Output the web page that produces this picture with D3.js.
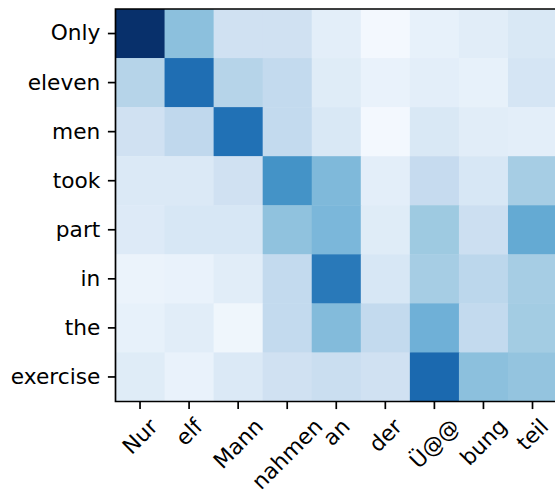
<!DOCTYPE html>
<html>
<head>
<meta charset="utf-8">
<script src="https://cdn.jsdelivr.net/npm/d3@7"></script>
<style>
  body { margin: 0; background: #fff; }
  svg { display: block; font-family: "DejaVu Sans", sans-serif; }
</style>
</head>
<body>
<svg id="bg" width="555" height="493"></svg>
<script>
// source (columns) and target (rows) tokens
var cols = ['Nur', 'elf', 'Mann', 'nahmen', 'an', 'der', 'Ü@@', 'bung', 'teil'];
var rows = ['Only', 'eleven', 'men', 'took', 'part', 'in', 'the', 'exercise'];

// attention weights, one array per row (0..1 on the colour scale)
var wOnly     = [1.00, 0.42, 0.20, 0.20, 0.10, 0.02, 0.08, 0.11, 0.15];
var wEleven   = [0.30, 0.76, 0.30, 0.26, 0.12, 0.07, 0.10, 0.08, 0.17];
var wMen      = [0.20, 0.27, 0.75, 0.26, 0.15, 0.02, 0.15, 0.11, 0.10];
var wTook     = [0.14, 0.14, 0.20, 0.62, 0.45, 0.10, 0.25, 0.16, 0.35];
var wPart     = [0.13, 0.16, 0.16, 0.41, 0.46, 0.12, 0.375, 0.22, 0.52];
var wIn       = [0.06, 0.07, 0.11, 0.26, 0.72, 0.16, 0.35, 0.28, 0.35];
var wThe      = [0.08, 0.11, 0.04, 0.26, 0.44, 0.26, 0.49, 0.26, 0.36];
var wExercise = [0.12, 0.07, 0.14, 0.20, 0.23, 0.20, 0.78, 0.42, 0.40];

var weights = [wOnly, wEleven, wMen, wTook, wPart, wIn, wThe, wExercise];

// matplotlib "Blues"
var blues = ['#f7fbff', '#deebf7', '#c6dbef', '#9ecae1', '#6baed6', '#4292c6', '#2171b5', '#08519c', '#08306b'];
var color = d3.scaleLinear()
  .domain(d3.range(9).map(function(i) { return i / 8; }))
  .range(blues)
  .interpolate(d3.interpolateRgb);

var plotLeft = 115.5, plotTop = 9, cell = 49.06;

var xScale = d3.scaleBand()
  .domain(cols)
  .range([plotLeft, plotLeft + cell * cols.length]);

var yScale = d3.scaleBand()
  .domain(rows)
  .range([plotTop, plotTop + cell * rows.length]);

var svg = d3.select('#bg');

var cells = [];
rows.forEach(function(r, i) {
  cols.forEach(function(c, j) {
    cells.push({ row: r, col: c, v: weights[i][j] });
  });
});

svg.append('g')
  .selectAll('rect')
  .data(cells)
  .join('rect')
  .attr('x', function(d) { return xScale(d.col); })
  .attr('y', function(d) { return yScale(d.row); })
  .attr('width', xScale.bandwidth() + 0.5)
  .attr('height', yScale.bandwidth() + 0.5)
  .attr('fill', function(d) { return color(d.v); });

var fontSize = 21.7;
var tickLen = 7.6;
var pad = 7.6;
var lw = 1.7;
var plotBottom = plotTop + cell * rows.length;
var plotRight = plotLeft + cell * cols.length;

// y axis
var yAxis = svg.append('g')
  .attr('transform', 'translate(' + plotLeft + ',0)')
  .call(d3.axisLeft(yScale).tickSize(tickLen).tickPadding(pad));
yAxis.select('.domain').remove();
yAxis.selectAll('line').attr('stroke', '#000').attr('stroke-width', lw);
yAxis.selectAll('text')
  .attr('font-size', fontSize)
  .attr('font-family', '"DejaVu Sans", sans-serif')
  .attr('fill', '#000');

// x axis
var xAxis = svg.append('g')
  .attr('transform', 'translate(0,' + plotBottom + ')')
  .call(d3.axisBottom(xScale).tickSize(tickLen).tickFormat(''));
xAxis.select('.domain').remove();
xAxis.selectAll('line').attr('stroke', '#000').attr('stroke-width', lw);

// rotated x labels, bounding box centred under each tick
var labelTop = plotBottom + tickLen + pad - 3;
var lineH = fontSize * 1.16;
cols.forEach(function(c) {
  var t = svg.append('text')
    .text(c)
    .attr('font-size', fontSize)
    .attr('text-anchor', 'middle')
    .attr('dominant-baseline', 'central')
    .attr('fill', '#000');
  var w = t.node().getComputedTextLength();
  var half = (w + lineH) * Math.SQRT1_2 / 2;
  var cx = xScale(c) + xScale.bandwidth() / 2;
  t.attr('transform', 'translate(' + cx + ',' + (labelTop + half) + ') rotate(-45)');
});

// spines
var spine = svg.append('g')
  .attr('fill', 'none')
  .attr('stroke', '#000')
  .attr('stroke-width', lw);
spine.append('path')
  .attr('d', 'M' + plotRight + ',' + plotTop + 'H' + plotLeft + 'V' + plotBottom + 'H' + plotRight + 'V' + plotTop);
</script>
</body>
</html>
